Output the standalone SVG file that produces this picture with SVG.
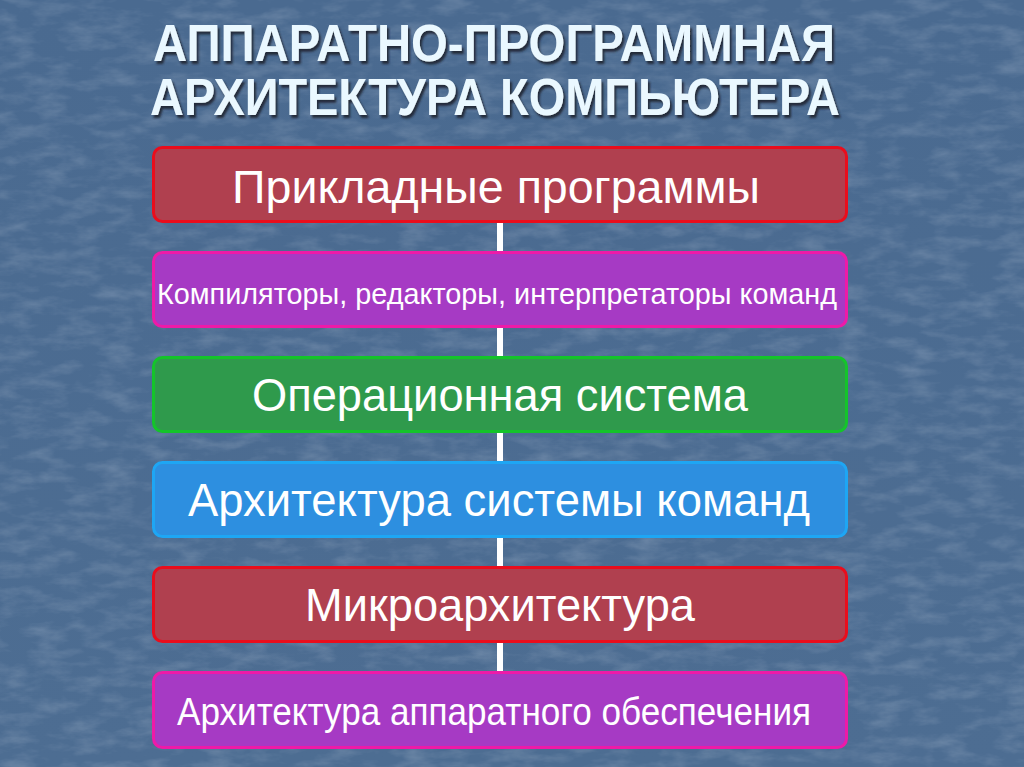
<svg xmlns="http://www.w3.org/2000/svg" width="1024" height="767" viewBox="0 0 1024 767">
<defs>
<linearGradient id="bg" x1="0" y1="0" x2="0" y2="1">
<stop offset="0" stop-color="#4a6a90"/>
<stop offset="1" stop-color="#4d6d92"/>
</linearGradient>
<filter id="tex" x="0" y="0" width="100%" height="100%">
<feTurbulence type="fractalNoise" baseFrequency="0.03 0.08" numOctaves="4" seed="7" result="n"/>
<feColorMatrix in="n" type="matrix" values="0 0 0 0 0.78  0 0 0 0 0.82  0 0 0 0 0.9  0 0 0 1.2 -0.5" result="c"/>
<feComposite in="c" in2="SourceGraphic" operator="in"/>
</filter>
<filter id="sh" x="-5%" y="-20%" width="110%" height="140%">
<feDropShadow dx="2" dy="3" stdDeviation="1" flood-color="#1a2330" flood-opacity="0.9"/>
</filter>
</defs>
<style>
.title{font-family:"Liberation Sans",Arial,sans-serif;font-weight:bold;font-size:52px;fill:#eaf8ff;text-anchor:middle}
.lbl{font-family:"Liberation Sans",Arial,sans-serif;fill:#ffffff;text-anchor:middle}
.box{stroke-width:3}
.red{fill:#b0404f;stroke:#ea0d1c}
.pur{fill:#a63ac4;stroke:#ee1aa8}
.grn{fill:#2f9a4c;stroke:#14c42a}
.blu{fill:#2d8fe0;stroke:#1ea6f4}
.conn{fill:#ffffff}
</style>
<rect width="1024" height="767" fill="url(#bg)"/>
<rect width="1024" height="767" fill="#ffffff" filter="url(#tex)" opacity="0.3"/>
<g id="title" filter="url(#sh)">
<text class="title" x="494" y="61" textLength="682" lengthAdjust="spacingAndGlyphs">АППАРАТНО-ПРОГРАММНАЯ</text>
<text class="title" x="495" y="115" textLength="690" lengthAdjust="spacingAndGlyphs">АРХИТЕКТУРА КОМПЬЮТЕРА</text>
</g>
<g id="connectors">
<rect class="conn" x="497" y="222" width="6" height="30"/>
<rect class="conn" x="497" y="327" width="6" height="30"/>
<rect class="conn" x="497" y="432" width="6" height="30"/>
<rect class="conn" x="497" y="537" width="6" height="30"/>
<rect class="conn" x="497" y="642" width="6" height="30"/>
</g>
<g id="node1">
<rect class="box red" x="153.5" y="147.5" width="693" height="74" rx="9"/>
<text class="lbl" x="496" y="203" font-size="47" textLength="528" lengthAdjust="spacingAndGlyphs">Прикладные программы</text>
</g>
<g id="node2">
<rect class="box pur" x="153.5" y="252.5" width="693" height="74" rx="9"/>
<text class="lbl" x="497" y="304" font-size="29" textLength="680" lengthAdjust="spacingAndGlyphs">Компиляторы, редакторы, интерпретаторы команд</text>
</g>
<g id="node3">
<rect class="box grn" x="153.5" y="357.5" width="693" height="74" rx="9"/>
<text class="lbl" x="500" y="411" font-size="47" textLength="496" lengthAdjust="spacingAndGlyphs">Операционная система</text>
</g>
<g id="node4">
<rect class="box blu" x="153.5" y="462.5" width="693" height="74" rx="9"/>
<text class="lbl" x="499" y="516" font-size="47" textLength="622" lengthAdjust="spacingAndGlyphs">Архитектура системы команд</text>
</g>
<g id="node5">
<rect class="box red" x="153.5" y="567.5" width="693" height="74" rx="9"/>
<text class="lbl" x="500" y="621" font-size="47" textLength="390" lengthAdjust="spacingAndGlyphs">Микроархитектура</text>
</g>
<g id="node6">
<rect class="box pur" x="153.5" y="672.5" width="693" height="75" rx="9"/>
<text class="lbl" x="494" y="725" font-size="39" textLength="634" lengthAdjust="spacingAndGlyphs">Архитектура аппаратного обеспечения</text>
</g>
</svg>
